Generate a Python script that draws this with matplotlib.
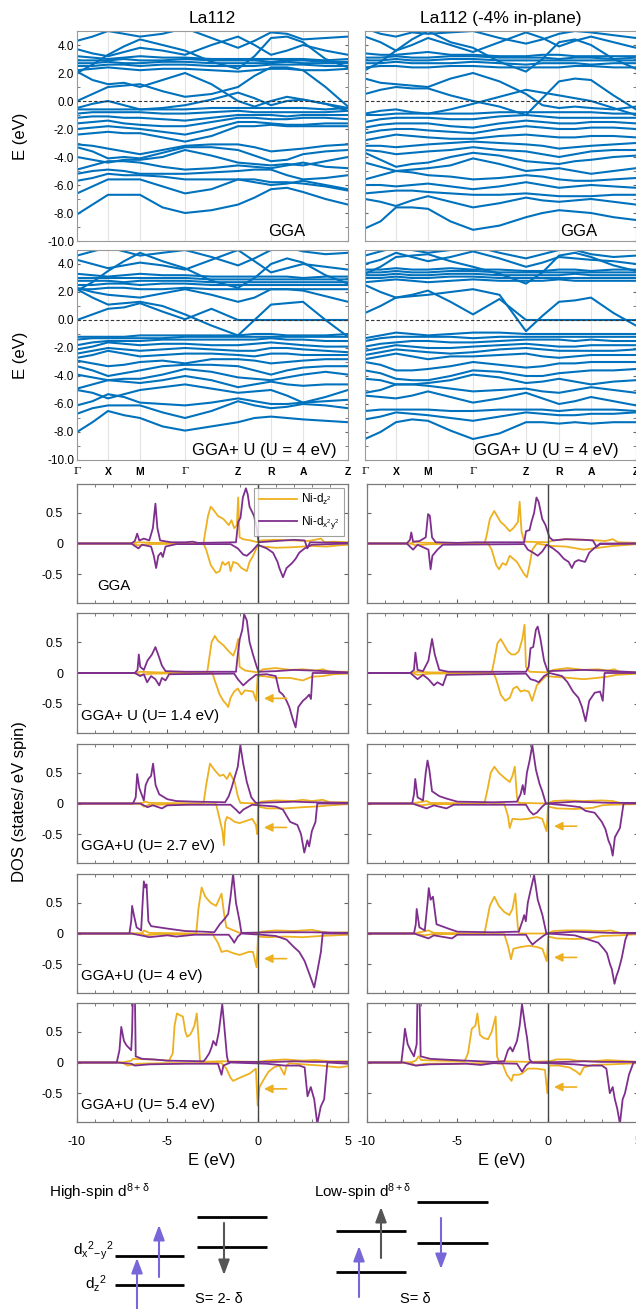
import numpy as np
import matplotlib.pyplot as plt
from matplotlib.ticker import MultipleLocator

plt.rcParams['font.family'] = ['Liberation Sans', 'DejaVu Sans']
plt.rcParams['mathtext.fontset'] = 'custom'
plt.rcParams['mathtext.rm'] = 'Liberation Sans'
plt.rcParams['mathtext.it'] = 'Liberation Sans:italic'

BLUE = '#0072BD'
ORANGE = '#EDB120'
PURPLE = '#7E2F8E'

# ---------------- band structure data ----------------
kpath = [0, 31, 63, 108, 161, 194, 226, 271]
klabels = ['Γ', 'X', 'M', 'Γ', 'Z', 'R', 'A', 'Z']

# energies (eV) at Γ, ., X, ., M, ., Γ, ., Z, ., R, ., A, ., Z
bands_gga_l = [
    [-8.1, -7.4, -6.7, -6.7, -6.7, -7.6, -8.0, -7.8, -7.4, -6.9, -6.3, -6.2, -6.5, -7.0, -7.4],
    [-6.6, -6.1, -5.6, -5.6, -5.6, -6.1, -6.6, -6.3, -5.6, -5.8, -6.0, -5.9, -5.7, -6.0, -6.3],
    [-5.7, -5.5, -5.2, -5.3, -5.3, -5.4, -5.6, -5.6, -5.6, -5.6, -5.8, -5.8, -5.9, -6.1, -6.4],
    [-5.2, -5.0, -4.9, -5.0, -5.2, -5.2, -5.2, -5.1, -5.0, -4.9, -4.9, -5.3, -5.6, -5.5, -5.3],
    [-4.9, -4.6, -4.3, -4.3, -4.4, -4.7, -4.9, -4.8, -4.6, -4.7, -4.8, -4.6, -4.4, -4.7, -4.8],
    [-4.0, -4.2, -4.4, -4.2, -4.2, -4.0, -3.5, -3.9, -4.4, -4.5, -4.6, -4.5, -4.6, -4.3, -4.0],
    [-3.3, -3.6, -4.1, -4.0, -4.1, -3.7, -3.3, -3.3, -3.5, -3.9, -4.3, -4.2, -3.8, -3.6, -3.5],
    [-3.1, -3.2, -3.4, -3.6, -3.8, -3.5, -3.2, -3.1, -3.1, -3.3, -3.6, -3.5, -3.4, -3.2, -3.1],
    [-2.4, -2.3, -2.2, -2.3, -2.3, -2.6, -2.9, -2.5, -1.8, -1.8, -1.7, -1.8, -1.8, -1.8, -1.8],
    [-2.0, -1.9, -1.8, -1.9, -2.0, -2.2, -2.4, -2.0, -1.5, -1.5, -1.6, -1.7, -1.7, -1.6, -1.6],
    [-1.6, -1.5, -1.4, -1.6, -1.7, -1.8, -1.8, -1.5, -1.2, -1.2, -1.3, -1.3, -1.2, -1.2, -1.3],
    [-1.2, -1.1, -1.1, -1.2, -1.2, -1.3, -1.4, -1.2, -1.0, -1.0, -1.0, -1.1, -1.0, -1.0, -1.0],
    [-0.9, -0.8, -0.8, -0.8, -0.8, -0.9, -0.9, -0.8, -0.7, -0.8, -0.8, -0.8, -0.8, -0.8, -0.7],
    [-0.6, -0.6, -0.6, -0.6, -0.6, -0.6, -0.6, -0.5, -0.5, -0.5, -0.5, -0.5, -0.5, -0.6, -0.5],
    [-0.5, -0.2, 0.0, -0.3, -0.6, -0.5, -0.3, 0.1, 0.6, 0.2, -0.3, 0.0, 0.1, -0.2, -0.5],
    [0.0, 0.5, 1.0, 1.1, 1.2, 0.7, 0.3, 0.5, 1.0, 1.8, 2.4, 2.4, 2.2, 1.0, -0.4],
    [2.1, 1.5, 1.2, 1.3, 1.0, 1.5, 2.0, 1.2, 0.0, -0.4, 0.0, 0.3, 0.1, -0.2, -0.7],
    [2.2, 2.3, 2.4, 2.3, 2.2, 2.3, 2.3, 2.2, 2.1, 2.2, 2.3, 2.3, 2.2, 2.2, 2.3],
    [2.5, 2.5, 2.6, 2.6, 2.5, 2.6, 2.6, 2.5, 2.5, 2.5, 2.6, 2.6, 2.6, 2.5, 2.5],
    [2.7, 2.7, 2.8, 2.7, 2.7, 2.8, 2.8, 2.7, 2.7, 2.7, 2.7, 2.8, 2.7, 2.7, 2.7],
    [2.9, 2.9, 2.9, 3.0, 2.9, 2.9, 3.0, 2.9, 2.9, 2.9, 2.8, 2.9, 2.9, 2.8, 2.8],
    [3.2, 3.1, 3.0, 3.1, 3.2, 3.1, 3.1, 3.0, 3.0, 3.0, 3.0, 3.0, 3.0, 2.9, 3.0],
    [3.7, 3.4, 3.2, 3.5, 3.8, 3.6, 3.3, 4.0, 4.6, 4.0, 3.3, 3.6, 4.0, 3.6, 3.3],
    [4.3, 4.6, 5.0, 4.8, 4.6, 4.8, 5.2, 4.5, 3.8, 4.3, 4.9, 4.8, 4.4, 4.5, 4.6],
    [2.0, 2.6, 3.3, 3.9, 4.4, 4.0, 3.6, 2.8, 2.3, 3.2, 4.5, 4.6, 4.2, 3.0, 2.4],
]

bands_ggau_l = [
    [-8.0, -7.3, -6.5, -6.8, -7.0, -7.6, -7.9, -7.6, -7.3, -7.0, -6.9, -7.0, -7.1, -7.2, -7.3],
    [-6.7, -6.3, -6.1, -6.1, -6.1, -6.6, -7.0, -6.5, -5.8, -6.1, -6.3, -6.2, -6.0, -6.1, -6.3],
    [-6.1, -5.8, -5.3, -5.5, -5.9, -6.0, -6.1, -5.9, -5.6, -5.8, -6.0, -6.0, -5.9, -5.8, -5.7],
    [-5.0, -5.2, -5.6, -5.3, -5.0, -4.8, -4.6, -4.9, -5.2, -5.1, -5.0, -5.4, -5.9, -5.5, -5.0],
    [-4.9, -4.6, -4.3, -4.4, -4.5, -4.3, -4.0, -4.3, -4.8, -4.6, -4.4, -4.6, -4.7, -4.6, -4.6],
    [-3.9, -4.1, -4.3, -4.2, -4.2, -3.9, -3.5, -3.7, -4.1, -4.2, -4.3, -4.1, -3.9, -3.7, -3.9],
    [-3.3, -3.6, -4.0, -3.8, -3.6, -3.3, -3.2, -3.2, -3.3, -3.6, -3.9, -3.6, -3.4, -3.3, -3.3],
    [-2.9, -3.1, -3.3, -3.2, -3.0, -2.9, -3.1, -2.8, -2.8, -2.9, -3.1, -3.0, -2.9, -2.8, -2.8],
    [-2.7, -2.5, -2.2, -2.4, -2.6, -2.5, -2.4, -2.4, -2.5, -2.6, -2.4, -2.4, -2.5, -2.5, -2.5],
    [-2.4, -2.2, -2.0, -2.1, -2.2, -2.1, -2.0, -2.1, -2.2, -2.2, -2.0, -2.0, -2.1, -2.2, -2.3],
    [-2.1, -1.9, -1.6, -1.7, -1.8, -1.7, -1.7, -1.8, -1.8, -1.7, -1.6, -1.7, -1.8, -1.9, -1.9],
    [-1.8, -1.6, -1.5, -1.5, -1.5, -1.4, -1.4, -1.4, -1.4, -1.4, -1.3, -1.4, -1.4, -1.5, -1.5],
    [-1.4, -1.3, -1.3, -1.3, -1.3, -1.3, -1.2, -1.2, -1.2, -1.2, -1.2, -1.2, -1.2, -1.2, -1.2],
    [-1.2, -1.2, -1.2, -1.2, -1.1, -1.1, -1.1, -1.1, -1.1, -1.0, -1.0, -1.1, -1.1, -1.1, -1.0],
    [0.0, 0.4, 0.8, 0.9, 1.2, 0.6, 0.05, 0.8, 0.0, 0.0, 0.0, 0.0, 0.0, 0.0, 0.0],
    [2.2, 1.6, 1.1, 1.2, 1.3, 1.0, 0.4, -0.4, -1.1, 0.0, 1.1, 1.2, 1.3, 0.0, -1.2],
    [2.2, 2.2, 2.3, 2.3, 2.2, 2.2, 2.3, 2.2, 2.2, 2.2, 2.2, 2.2, 2.2, 2.2, 2.2],
    [2.5, 2.5, 2.6, 2.6, 2.5, 2.6, 2.6, 2.5, 2.5, 2.5, 2.5, 2.5, 2.5, 2.5, 2.5],
    [2.8, 2.8, 2.8, 2.7, 2.8, 2.8, 2.8, 2.7, 2.7, 2.7, 2.7, 2.7, 2.7, 2.7, 2.7],
    [3.0, 3.0, 3.0, 3.0, 3.0, 3.0, 3.0, 2.9, 2.9, 2.9, 2.9, 2.9, 2.9, 2.9, 2.9],
    [3.3, 3.2, 3.1, 3.2, 3.3, 3.2, 3.2, 3.1, 3.1, 3.1, 3.1, 3.1, 3.0, 3.1, 3.1],
    [4.3, 4.0, 3.7, 3.9, 4.1, 3.9, 3.6, 4.3, 5.0, 4.2, 3.4, 3.7, 4.0, 3.8, 3.6],
    [4.6, 4.9, 5.2, 4.9, 4.6, 4.8, 5.0, 4.5, 3.9, 4.4, 5.0, 5.2, 4.9, 4.7, 4.8],
    [2.1, 2.7, 3.5, 4.2, 4.8, 4.2, 3.7, 2.8, 2.3, 3.0, 4.0, 4.4, 4.1, 3.2, 2.6],
    [2.3, 2.0, 1.8, 1.7, 1.6, 1.9, 2.2, 1.8, 1.3, 1.6, 2.2, 2.2, 2.1, 1.7, 1.3],
]

bands_gga_r = [
    [-9.1, -8.6, -7.6, -7.6, -7.7, -8.6, -9.2, -8.9, -8.3, -8.0, -7.8, -7.9, -8.0, -8.3, -8.5],
    [-7.0, -7.2, -7.5, -7.1, -6.8, -7.2, -7.6, -7.3, -6.9, -7.1, -7.2, -7.1, -7.0, -7.2, -7.4],
    [-6.6, -6.5, -6.4, -6.4, -6.5, -6.6, -6.7, -6.7, -6.6, -6.7, -6.8, -6.8, -6.8, -6.7, -6.7],
    [-6.0, -6.0, -6.1, -6.0, -5.9, -6.1, -6.3, -6.1, -5.8, -6.0, -6.2, -6.1, -6.0, -6.1, -6.2],
    [-5.6, -5.3, -5.0, -5.1, -5.3, -5.4, -5.6, -5.5, -5.3, -5.4, -5.6, -5.7, -5.7, -5.6, -5.5],
    [-4.4, -4.7, -5.0, -4.9, -4.8, -4.6, -4.1, -4.5, -5.0, -4.9, -4.8, -5.0, -5.2, -5.0, -4.8],
    [-3.7, -4.2, -4.7, -4.5, -4.4, -4.0, -3.7, -3.9, -4.3, -4.4, -4.5, -4.3, -4.2, -4.0, -3.9],
    [-3.5, -3.6, -3.8, -3.7, -3.6, -3.5, -3.3, -3.5, -3.6, -3.8, -4.0, -3.8, -3.6, -3.5, -3.5],
    [-3.2, -3.2, -3.3, -3.2, -3.1, -3.0, -2.9, -3.0, -3.1, -3.2, -3.4, -3.3, -3.2, -3.1, -3.0],
    [-2.8, -2.6, -2.4, -2.5, -2.6, -2.7, -2.7, -2.5, -2.4, -2.5, -2.6, -2.6, -2.5, -2.5, -2.6],
    [-2.3, -2.1, -2.0, -2.0, -2.1, -2.2, -2.3, -2.0, -1.8, -1.9, -2.0, -2.0, -1.9, -1.9, -2.0],
    [-1.9, -1.7, -1.6, -1.6, -1.6, -1.8, -1.9, -1.6, -1.4, -1.5, -1.6, -1.6, -1.5, -1.5, -1.6],
    [-1.5, -1.3, -1.2, -1.2, -1.2, -1.3, -1.3, -1.1, -1.0, -1.1, -1.2, -1.2, -1.2, -1.2, -1.2],
    [-1.0, -1.0, -0.9, -0.9, -0.9, -0.9, -0.9, -0.8, -0.8, -0.8, -0.8, -0.8, -0.8, -0.9, -0.9],
    [-0.9, -0.7, -0.6, -0.8, -0.9, -0.6, -0.2, 0.3, 0.8, 0.6, 0.4, 0.2, 0.0, -0.5, -1.0],
    [0.5, 0.8, 1.0, 0.9, 0.9, 0.4, 0.0, -0.4, -1.0, 0.2, 1.4, 1.6, 1.5, 0.4, -0.6],
    [1.6, 1.3, 1.2, 1.1, 1.0, 1.6, 2.0, 1.4, 0.5, -0.3, -0.5, -0.4, -0.5, -0.6, -0.4],
    [2.4, 2.5, 2.5, 2.4, 2.4, 2.5, 2.5, 2.4, 2.4, 2.4, 2.4, 2.5, 2.5, 2.4, 2.4],
    [2.7, 2.7, 2.8, 2.7, 2.7, 2.7, 2.8, 2.7, 2.6, 2.7, 2.7, 2.7, 2.6, 2.7, 2.7],
    [2.9, 2.9, 3.0, 2.9, 2.9, 3.0, 3.0, 2.9, 2.9, 2.9, 2.9, 2.9, 2.9, 2.9, 2.9],
    [3.1, 3.1, 3.2, 3.1, 3.1, 3.2, 3.2, 3.1, 3.1, 3.1, 3.0, 3.1, 3.1, 3.0, 3.1],
    [3.4, 3.3, 3.3, 3.4, 3.5, 3.3, 3.3, 3.2, 3.2, 3.3, 3.3, 3.2, 3.2, 3.2, 3.2],
    [4.6, 4.2, 3.6, 4.0, 4.5, 4.0, 3.5, 4.2, 4.9, 4.5, 3.9, 4.3, 4.6, 4.2, 3.8],
    [5.2, 4.8, 4.6, 4.9, 4.8, 4.9, 5.0, 4.5, 4.1, 4.4, 4.8, 5.0, 4.9, 4.7, 4.5],
    [2.2, 2.8, 3.6, 4.4, 5.0, 4.2, 3.8, 2.8, 2.1, 3.0, 4.2, 4.4, 4.0, 3.0, 2.3],
]

bands_ggau_r = [
    [-8.5, -8.0, -7.3, -7.1, -7.2, -7.9, -8.5, -8.1, -7.3, -7.3, -7.4, -7.3, -7.4, -7.3, -7.3],
    [-7.1, -6.9, -6.6, -6.7, -6.8, -7.0, -7.2, -6.9, -6.6, -6.7, -6.8, -6.8, -6.7, -6.7, -6.6],
    [-6.5, -6.4, -6.4, -6.4, -6.4, -6.5, -6.5, -6.4, -6.4, -6.4, -6.5, -6.4, -6.4, -6.4, -6.5],
    [-5.4, -5.5, -5.6, -5.4, -5.1, -5.5, -5.9, -5.6, -5.2, -5.6, -6.0, -5.8, -5.5, -5.8, -6.1],
    [-5.2, -5.0, -4.6, -4.6, -4.7, -4.9, -5.1, -5.0, -4.9, -5.1, -5.2, -5.0, -4.8, -5.0, -5.2],
    [-4.2, -4.3, -4.6, -4.6, -4.5, -4.3, -3.9, -4.1, -4.5, -4.4, -4.2, -4.4, -4.6, -4.4, -4.3],
    [-3.6, -3.8, -4.2, -4.3, -4.3, -4.0, -3.6, -3.7, -4.0, -4.0, -3.8, -3.7, -3.6, -3.6, -3.5],
    [-3.0, -3.2, -3.6, -3.6, -3.5, -3.3, -3.0, -3.2, -3.4, -3.3, -3.1, -3.1, -3.0, -3.0, -3.0],
    [-2.8, -2.6, -2.4, -2.6, -2.8, -2.6, -2.6, -2.5, -2.4, -2.6, -2.7, -2.6, -2.5, -2.5, -2.5],
    [-2.5, -2.3, -2.1, -2.2, -2.3, -2.4, -2.3, -2.1, -2.0, -2.1, -2.2, -2.2, -2.2, -2.2, -2.1],
    [-2.2, -2.0, -1.8, -1.9, -2.0, -2.0, -1.9, -1.8, -1.7, -1.8, -1.9, -1.9, -1.8, -1.8, -1.8],
    [-1.9, -1.7, -1.6, -1.5, -1.5, -1.6, -1.6, -1.5, -1.4, -1.4, -1.4, -1.5, -1.4, -1.5, -1.5],
    [-1.5, -1.3, -1.2, -1.2, -1.2, -1.2, -1.3, -1.2, -1.2, -1.2, -1.2, -1.2, -1.2, -1.2, -1.2],
    [-1.3, -1.1, -0.9, -1.0, -1.1, -1.0, -0.9, -0.9, -1.0, -1.0, -1.0, -1.0, -1.0, -1.0, -1.0],
    [0.5, 1.0, 1.6, 1.8, 2.1, 1.3, 0.4, 1.5, 0.0, 0.0, 0.0, 0.0, 0.0, 0.0, 0.0],
    [2.5, 2.0, 1.6, 1.7, 1.8, 2.0, 2.2, 1.8, -0.8, 0.3, 1.3, 1.4, 1.6, 0.5, -0.4],
    [2.7, 2.8, 2.9, 2.8, 2.7, 2.8, 2.9, 2.8, 2.8, 2.8, 2.9, 2.8, 2.8, 2.8, 2.8],
    [3.0, 3.0, 3.1, 3.0, 3.0, 3.1, 3.1, 3.0, 3.0, 3.0, 3.0, 3.0, 3.0, 3.0, 3.0],
    [3.2, 3.2, 3.3, 3.2, 3.2, 3.3, 3.3, 3.2, 3.2, 3.2, 3.2, 3.3, 3.2, 3.2, 3.2],
    [3.4, 3.4, 3.5, 3.4, 3.4, 3.5, 3.5, 3.4, 3.4, 3.4, 3.4, 3.4, 3.4, 3.4, 3.4],
    [3.6, 3.6, 3.7, 3.6, 3.6, 3.7, 3.6, 3.6, 3.5, 3.5, 3.6, 3.6, 3.5, 3.6, 3.6],
    [4.0, 4.3, 4.8, 4.5, 4.2, 4.5, 4.9, 4.4, 3.8, 4.1, 4.5, 4.4, 4.3, 4.2, 4.0],
    [4.6, 4.9, 5.2, 5.0, 4.8, 5.0, 5.3, 4.8, 4.4, 4.7, 5.0, 5.0, 4.7, 4.5, 4.6],
    [3.3, 3.8, 4.5, 4.6, 4.7, 4.2, 3.8, 3.3, 2.6, 3.4, 4.6, 4.8, 4.5, 3.9, 3.5],
]

# ---------------- DOS data: (E, states/eV spin) ----------------
gga_l_z2_up = [(-10,0),(-7,0),(-6.6,0.02),(-5.6,0.01),(-3.0,0.0),(-2.92,0.15),(-2.75,0.45),(-2.6,0.6),(-2.45,0.55),(-2.2,0.45),(-1.9,0.4),(-1.6,0.3),(-1.45,0.38),(-1.3,0.25),(-1.15,0.3),(-1.08,0.75),(-1.0,0.1),(-0.8,0.07),(-0.4,0.05),(0,0.02),(0.2,0.05),(1.0,0.06),(2.0,0.05),(2.8,0.04),(3.5,0.08),(3.7,0.02),(4.2,0.03),(5,0.02)]
gga_l_z2_dn = [(-10,0),(-7,0),(-6.6,-0.03),(-6.0,-0.01),(-3.0,0.0),(-2.85,-0.1),(-2.6,-0.35),(-2.3,-0.48),(-2.1,-0.45),(-1.95,-0.3),(-1.8,-0.35),(-1.6,-0.3),(-1.5,-0.45),(-1.35,-0.3),(-1.1,-0.33),(-0.9,-0.4),(-0.6,-0.45),(-0.45,-0.3),(-0.25,-0.2),(0,-0.03),(0.3,-0.05),(1.0,-0.07),(2.0,-0.06),(3.0,-0.04),(3.8,-0.05),(4.5,-0.03),(5,-0.02)]
gga_l_x2_up = [(-10,0),(-7.0,0),(-6.8,0.04),(-6.67,0.16),(-6.55,0.05),(-6.3,0.08),(-6.0,0.05),(-5.8,0.25),(-5.66,0.65),(-5.55,0.25),(-5.4,0.05),(-4.8,0.02),(-4.0,0.02),(-3.6,0.03),(-3.3,0.01),(-1.2,0.02),(-1.08,0.35),(-0.95,0.42),(-0.82,0.75),(-0.65,0.9),(-0.55,0.8),(-0.45,0.6),(-0.2,0.45),(-0.05,0.25),(0.05,0.02),(1.0,0.04),(2.0,0.06),(2.6,0.05),(2.75,-0.08),(2.9,0.02),(5,0.01)]
gga_l_x2_dn = [(-10,0),(-7.0,0),(-6.6,-0.08),(-6.4,-0.02),(-5.9,-0.05),(-5.75,-0.2),(-5.62,-0.4),(-5.5,-0.2),(-5.35,-0.15),(-5.25,-0.22),(-5.1,-0.05),(-4.5,-0.01),(-1.5,-0.01),(-1.1,-0.08),(-0.8,-0.18),(-0.6,-0.2),(-0.3,-0.12),(0,-0.02),(0.5,-0.08),(0.85,-0.15),(1.1,-0.3),(1.2,-0.4),(1.4,-0.55),(1.6,-0.4),(1.9,-0.32),(2.1,-0.25),(2.3,-0.15),(2.6,-0.08),(3.0,-0.02),(5,0)]

gga_r_z2_up = [(-10,0),(-7.6,0),(-7.4,0.02),(-6.6,0.01),(-3.5,0.0),(-3.4,0.1),(-3.2,0.4),(-2.96,0.53),(-2.8,0.45),(-2.6,0.35),(-2.4,0.3),(-2.1,0.2),(-1.9,0.25),(-1.65,0.35),(-1.55,0.68),(-1.45,0.2),(-1.3,0.03),(0,0.02),(0.3,0.05),(1.0,0.07),(2.0,0.06),(2.8,0.05),(3.2,0.04),(3.6,0.07),(3.9,0.02),(5,0.01)]
gga_r_z2_dn = [(-10,0),(-7.6,0),(-7.3,-0.03),(-6.5,-0.01),(-3.3,0.0),(-3.1,-0.1),(-2.85,-0.35),(-2.69,-0.42),(-2.5,-0.32),(-2.3,-0.35),(-2.1,-0.2),(-1.9,-0.25),(-1.7,-0.3),(-1.5,-0.4),(-1.3,-0.5),(-1.15,-0.55),(-1.0,-0.35),(-0.85,-0.1),(-0.6,0.0),(0.2,-0.04),(1.0,-0.05),(2.0,-0.1),(2.8,-0.07),(3.6,-0.04),(5,-0.01)]
gga_r_x2_up = [(-10,0),(-7.8,0),(-7.62,0.06),(-7.55,0.18),(-7.45,0.03),(-7.1,0.04),(-6.75,0.1),(-6.62,0.48),(-6.52,0.45),(-6.4,0.1),(-6.2,0.02),(-5.0,0.01),(-4.0,0.02),(-1.3,0.02),(-1.2,0.2),(-1.0,0.22),(-0.9,0.35),(-0.75,0.5),(-0.62,0.75),(-0.5,0.68),(-0.3,0.4),(-0.12,0.3),(0.1,0.1),(0.3,0.05),(1.0,0.07),(2.0,0.06),(2.5,0.05),(2.7,-0.05),(2.9,0.0),(5,0.0)]
gga_r_x2_dn = [(-10,0),(-7.8,0),(-7.45,-0.1),(-7.2,-0.02),(-6.6,-0.1),(-6.48,-0.42),(-6.38,-0.2),(-6.1,-0.1),(-5.8,-0.02),(-1.3,-0.01),(-1.1,-0.1),(-0.8,-0.15),(-0.55,-0.2),(-0.3,-0.13),(-0.05,-0.02),(0.3,-0.08),(0.6,-0.15),(0.9,-0.25),(1.16,-0.3),(1.34,-0.4),(1.5,-0.3),(1.7,-0.27),(2.07,-0.3),(2.3,-0.15),(2.6,-0.07),(2.9,-0.01),(5,0)]

u14_l_z2_up = [(-10,0),(-6.8,0),(-6.5,0.02),(-5.5,0.01),(-2.8,0.0),(-2.7,0.2),(-2.55,0.5),(-2.37,0.6),(-2.2,0.52),(-1.9,0.45),(-1.6,0.35),(-1.35,0.28),(-1.2,0.4),(-1.08,0.55),(-1.0,0.1),(-0.7,0.04),(0,0.01),(0.3,0.06),(1.0,0.08),(1.8,0.05),(2.5,0.06),(3.2,0.04),(3.6,0.06),(4.0,0.02),(5,0.02)]
u14_l_z2_dn = [(-10,0),(-6.8,0),(-6.5,-0.03),(-5.8,-0.01),(-2.5,0.0),(-2.4,-0.1),(-2.1,-0.35),(-1.9,-0.45),(-1.75,-0.5),(-1.63,-0.55),(-1.5,-0.4),(-1.3,-0.3),(-1.1,-0.25),(-0.9,-0.35),(-0.7,-0.28),(-0.26,-0.3),(-0.08,-0.45),(0.0,-0.05),(0.3,-0.05),(1.0,-0.08),(1.8,-0.08),(2.5,-0.12),(3.0,-0.06),(3.6,-0.05),(4.2,-0.02),(5,-0.01)]
u14_l_x2_up = [(-10,0),(-6.8,0),(-6.65,0.05),(-6.58,0.3),(-6.5,0.1),(-6.3,0.05),(-6.1,0.2),(-5.85,0.3),(-5.66,0.42),(-5.45,0.25),(-5.3,0.12),(-5.1,0.03),(-4.0,0.02),(-3.5,0.02),(-1.2,0.02),(-1.1,0.3),(-0.99,0.55),(-0.85,0.7),(-0.75,0.95),(-0.6,0.85),(-0.45,0.5),(-0.26,0.3),(-0.05,0.1),(0.05,0.02),(1.0,0.03),(2.0,0.05),(3.0,0.04),(5,0.01)]
u14_l_x2_dn = [(-10,0),(-6.8,0),(-6.5,-0.05),(-6.3,-0.02),(-6.12,-0.15),(-5.9,-0.05),(-5.66,-0.1),(-5.45,-0.2),(-5.3,-0.08),(-5.1,-0.12),(-4.9,-0.02),(-1.3,-0.01),(-1.1,-0.1),(-0.8,-0.2),(-0.5,-0.12),(-0.1,-0.03),(0.5,-0.02),(1.0,-0.05),(1.2,-0.3),(1.4,-0.35),(1.6,-0.45),(1.75,-0.55),(1.95,-0.75),(2.1,-0.88),(2.25,-0.55),(2.5,-0.45),(2.7,-0.4),(2.85,-0.35),(2.95,-0.42),(3.04,0.0),(5,0)]

u14_r_z2_up = [(-10,0),(-7.5,0),(-7.3,0.02),(-6.5,0.01),(-3.1,0.0),(-2.96,0.2),(-2.78,0.48),(-2.6,0.55),(-2.4,0.45),(-2.2,0.35),(-2.0,0.3),(-1.8,0.3),(-1.6,0.35),(-1.4,0.55),(-1.28,0.78),(-1.2,0.1),(-1.0,0.02),(0,0.01),(0.3,0.05),(1.1,0.08),(2.0,0.05),(2.8,0.06),(3.3,0.04),(3.7,0.06),(4.0,0.01),(5,0.01)]
u14_r_z2_dn = [(-10,0),(-7.5,0),(-7.2,-0.03),(-6.5,-0.01),(-3.0,0.0),(-2.85,-0.1),(-2.6,-0.35),(-2.35,-0.45),(-2.1,-0.4),(-1.9,-0.25),(-1.7,-0.22),(-1.5,-0.3),(-1.3,-0.28),(-1.05,-0.3),(-0.86,-0.45),(-0.6,-0.2),(-0.1,-0.05),(0.3,-0.06),(1.2,-0.08),(2.0,-0.1),(2.7,-0.08),(3.3,-0.06),(3.8,-0.03),(5,-0.01)]
u14_r_x2_up = [(-10,0),(-7.6,0),(-7.4,0.05),(-7.32,0.33),(-7.2,0.05),(-6.9,0.03),(-6.6,0.2),(-6.4,0.55),(-6.25,0.3),(-6.0,0.05),(-5.5,0.02),(-3.5,0.02),(-1.2,0.02),(-1.05,0.1),(-0.95,0.4),(-0.8,0.42),(-0.65,0.7),(-0.55,0.75),(-0.4,0.55),(-0.2,0.2),(0.0,0.03),(1.0,0.04),(2.0,0.05),(3.0,0.04),(5,0.01)]
u14_r_x2_dn = [(-10,0),(-7.6,0),(-7.2,-0.1),(-6.9,-0.03),(-6.6,-0.1),(-6.3,-0.2),(-6.1,-0.15),(-5.8,-0.2),(-5.6,-0.03),(-1.2,-0.01),(-0.95,-0.1),(-0.7,-0.12),(-0.5,-0.15),(-0.2,-0.05),(0.1,0.0),(0.8,-0.05),(1.1,-0.15),(1.4,-0.3),(1.7,-0.4),(1.9,-0.55),(2.1,-0.78),(2.3,-0.45),(2.6,-0.32),(2.9,-0.3),(3.05,-0.45),(3.15,0.0),(5,0)]

u27_l_z2_up = [(-10,0),(-6.5,0),(-6.2,0.03),(-6.0,0.01),(-3.0,0.0),(-2.85,0.3),(-2.64,0.65),(-2.4,0.55),(-2.1,0.45),(-1.9,0.47),(-1.7,0.4),(-1.54,0.5),(-1.4,0.42),(-1.27,0.35),(-1.1,0.12),(-0.96,0.01),(0,0.0),(0.2,0.03),(1.0,0.05),(2.0,0.04),(2.5,0.06),(3.0,0.04),(3.6,0.06),(4.0,0.02),(5,0.02)]
u27_l_z2_dn = [(-10,0),(-6.5,0),(-6.3,-0.05),(-6.0,-0.02),(-2.3,-0.01),(-2.15,-0.2),(-1.95,-0.45),(-1.87,-0.68),(-1.8,-0.3),(-1.7,-0.22),(-1.5,-0.25),(-1.27,-0.3),(-1.0,-0.32),(-0.6,-0.28),(-0.3,-0.25),(-0.1,-0.35),(-0.02,-0.5),(0.02,-0.05),(0.5,-0.08),(1.5,-0.08),(2.5,-0.06),(3.2,-0.05),(4.0,-0.03),(5,-0.01)]
u27_l_x2_up = [(-10,0),(-6.9,0),(-6.75,0.1),(-6.67,0.48),(-6.55,0.25),(-6.3,0.05),(-6.2,0.3),(-6.05,0.4),(-5.9,0.45),(-5.79,0.65),(-5.65,0.3),(-5.45,0.15),(-5.0,0.07),(-4.5,0.04),(-3.5,0.03),(-1.8,0.02),(-1.6,0.12),(-1.45,0.25),(-1.3,0.4),(-1.1,0.6),(-0.96,0.95),(-0.8,0.65),(-0.6,0.35),(-0.35,0.1),(-0.1,0.01),(1.0,0.02),(2.0,0.03),(3.0,0.02),(5,0.01)]
u27_l_x2_dn = [(-10,0),(-6.5,0),(-6.1,-0.06),(-5.8,-0.03),(-5.3,-0.08),(-5.0,-0.03),(-3.8,-0.02),(-1.5,-0.02),(-1.2,-0.1),(-1.0,-0.16),(-0.8,-0.1),(-0.3,-0.02),(1.0,-0.05),(1.4,-0.1),(1.6,-0.2),(1.8,-0.3),(2.2,-0.35),(2.4,-0.5),(2.58,-0.8),(2.75,-0.6),(2.85,-0.7),(3.0,-0.45),(3.2,-0.3),(3.3,0.0),(5,0)]

u27_r_z2_up = [(-10,0),(-7.5,0),(-6.7,0.04),(-6.5,0.01),(-3.5,0.0),(-3.35,0.2),(-3.15,0.5),(-2.95,0.6),(-2.7,0.5),(-2.4,0.42),(-2.1,0.35),(-1.95,0.45),(-1.82,0.6),(-1.7,0.1),(-1.6,0.01),(0,0.0),(0.3,0.04),(1.0,0.05),(2.0,0.04),(3.0,0.05),(3.6,0.04),(4.0,0.01),(5,0.01)]
u27_r_z2_dn = [(-10,0),(-7.5,0),(-7.0,-0.03),(-6.5,-0.01),(-2.4,-0.01),(-2.2,-0.2),(-2.1,-0.4),(-1.95,-0.25),(-1.5,-0.26),(-1.1,-0.25),(-0.6,-0.22),(-0.3,-0.25),(-0.06,-0.45),(0.02,-0.05),(0.5,-0.08),(1.5,-0.09),(2.5,-0.07),(3.0,-0.03),(3.5,-0.02),(5,-0.01)]
u27_r_x2_up = [(-10,0),(-7.5,0),(-7.4,0.15),(-7.33,0.4),(-7.2,0.1),(-6.9,0.05),(-6.75,0.5),(-6.65,0.7),(-6.55,0.55),(-6.4,0.2),(-6.0,0.12),(-5.6,0.08),(-5.0,0.03),(-3.0,0.02),(-1.7,0.03),(-1.5,0.15),(-1.38,0.3),(-1.28,0.15),(-1.15,0.5),(-1.0,0.7),(-0.85,0.95),(-0.65,0.55),(-0.45,0.32),(-0.3,0.2),(-0.1,0.0),(1.5,0.03),(2.5,0.02),(3.5,0.01),(5,0.01)]
u27_r_x2_dn = [(-10,0),(-7.5,0),(-6.7,-0.08),(-6.3,-0.03),(-5.6,-0.08),(-5.2,-0.02),(-1.2,-0.02),(-1.0,-0.12),(-0.8,-0.18),(-0.6,-0.15),(-0.3,-0.05),(-0.1,0.0),(1.0,-0.03),(1.8,-0.06),(2.1,-0.12),(2.6,-0.15),(3.0,-0.3),(3.2,-0.42),(3.36,-0.6),(3.5,-0.7),(3.6,-0.85),(3.72,-0.55),(4.0,-0.4),(4.2,0.0),(5,0)]

u4_l_z2_up = [(-10,0),(-6.4,0),(-6.3,0.05),(-6.0,0.01),(-3.4,0.0),(-3.28,0.4),(-3.1,0.75),(-2.9,0.6),(-2.6,0.5),(-2.3,0.45),(-2.15,0.55),(-2.0,0.65),(-1.85,0.3),(-1.73,0.1),(-1.0,0.01),(0,0.0),(0.2,0.03),(1.0,0.05),(2.0,0.04),(3.0,0.06),(3.5,0.03),(4.0,0.01),(5,0.02)]
u4_l_z2_dn = [(-10,0),(-6.4,0),(-6.2,-0.03),(-5.5,-0.01),(-2.5,-0.01),(-2.2,-0.15),(-2.0,-0.3),(-1.7,-0.28),(-1.36,-0.32),(-1.0,-0.35),(-0.5,-0.3),(-0.26,-0.3),(-0.06,-0.55),(0.02,-0.05),(0.5,-0.06),(1.5,-0.05),(2.5,-0.06),(3.5,-0.04),(5,-0.02)]
u4_l_x2_up = [(-10,0),(-7.1,0),(-7.0,0.2),(-6.95,0.45),(-6.85,0.3),(-6.7,0.1),(-6.45,0.05),(-6.35,0.6),(-6.3,0.85),(-6.22,0.75),(-6.15,0.8),(-6.05,0.2),(-5.9,0.12),(-5.0,0.08),(-4.0,0.04),(-3.0,0.03),(-2.4,0.02),(-2.1,0.15),(-1.8,0.25),(-1.63,0.32),(-1.5,0.6),(-1.36,0.97),(-1.2,0.5),(-1.0,0.2),(-0.9,0.01),(1.0,0.02),(2.0,0.02),(3.0,0.02),(5,0.01)]
u4_l_x2_dn = [(-10,0),(-7.0,0),(-6.3,-0.04),(-6.0,-0.06),(-5.0,-0.03),(-4.5,-0.05),(-3.5,-0.02),(-1.6,-0.02),(-1.4,-0.1),(-1.3,-0.15),(-1.1,-0.05),(-0.9,0.0),(0.2,-0.02),(1.0,-0.04),(1.6,-0.1),(2.0,-0.22),(2.3,-0.3),(2.6,-0.45),(2.85,-0.65),(3.13,-0.88),(3.3,-0.62),(3.5,-0.3),(3.6,0.0),(5,0)]

u4_r_z2_up = [(-10,0),(-7.4,0),(-6.6,0.05),(-6.3,0.01),(-3.5,0.0),(-3.4,0.15),(-3.2,0.45),(-2.95,0.6),(-2.7,0.45),(-2.4,0.35),(-2.12,0.3),(-1.95,0.4),(-1.79,0.65),(-1.65,0.1),(-1.58,0.0),(0,0.0),(0.3,0.04),(1.0,0.05),(2.0,0.05),(3.0,0.04),(3.5,0.05),(4.0,0.01),(5,0.01)]
u4_r_z2_dn = [(-10,0),(-7.4,0),(-6.8,-0.03),(-6.4,-0.01),(-2.4,-0.01),(-2.2,-0.2),(-2.03,-0.42),(-1.9,-0.25),(-1.5,-0.22),(-1.0,-0.2),(-0.6,-0.22),(-0.29,-0.25),(-0.05,-0.45),(0.03,-0.05),(0.5,-0.08),(1.5,-0.09),(2.3,-0.08),(3.0,-0.04),(4.0,-0.03),(5,-0.01)]
u4_r_x2_up = [(-10,0),(-7.4,0),(-7.3,0.15),(-7.25,0.4),(-7.1,0.1),(-6.8,0.05),(-6.65,0.5),(-6.58,0.74),(-6.48,0.55),(-6.35,0.6),(-6.15,0.15),(-5.5,0.08),(-5.0,0.03),(-3.0,0.02),(-1.6,0.03),(-1.4,0.2),(-1.3,0.3),(-1.21,0.2),(-1.1,0.5),(-0.95,0.7),(-0.75,0.95),(-0.55,0.55),(-0.29,0.3),(-0.07,0.0),(1.5,0.03),(2.5,0.02),(3.5,0.01),(5,0.01)]
u4_r_x2_dn = [(-10,0),(-7.4,0),(-6.6,-0.08),(-6.3,-0.03),(-5.3,-0.08),(-5.0,-0.02),(-1.2,-0.02),(-1.0,-0.12),(-0.84,-0.18),(-0.6,-0.12),(-0.2,-0.03),(0.0,0.0),(1.5,-0.03),(2.27,-0.1),(2.8,-0.15),(3.1,-0.25),(3.28,-0.32),(3.45,-0.5),(3.55,-0.58),(3.7,-0.82),(3.8,-0.7),(3.92,-0.6),(4.1,-0.4),(4.3,-0.1),(4.43,0.0),(5,0)]

u54_l_z2_up = [(-10,0),(-7.5,0),(-7.0,0.03),(-6.9,0.06),(-6.0,0.05),(-5.3,0.04),(-4.9,0.03),(-4.7,0.15),(-4.6,0.6),(-4.47,0.8),(-4.3,0.77),(-4.14,0.75),(-4.0,0.5),(-3.9,0.42),(-3.75,0.45),(-3.65,0.5),(-3.5,0.6),(-3.37,0.8),(-3.25,0.3),(-3.19,0.01),(-2.0,0.02),(0.0,0.01),(0.5,0.03),(1.5,0.05),(2.5,0.03),(3.2,0.04),(4.0,0.02),(5,0.02)]
u54_l_z2_dn = [(-10,0),(-7.5,0),(-7.2,-0.05),(-6.6,-0.02),(-5.0,-0.01),(-2.0,-0.01),(-1.73,-0.1),(-1.5,-0.25),(-1.36,-0.3),(-1.0,-0.25),(-0.44,-0.18),(-0.1,-0.1),(0.0,-0.7),(0.1,-0.4),(0.29,-0.3),(0.6,-0.15),(0.9,-0.08),(1.2,-0.05),(1.48,-0.2),(1.6,-0.05),(1.75,-0.01),(2.5,-0.03),(3.5,-0.05),(4.5,-0.08),(5,-0.06)]
u54_l_x2_up = [(-10,0),(-7.8,0),(-7.65,0.2),(-7.55,0.58),(-7.4,0.35),(-7.26,0.28),(-7.0,0.2),(-6.95,0.5),(-6.9,1.2),(-6.8,1.2),(-6.75,0.1),(-6.4,0.06),(-5.76,0.05),(-5.0,0.03),(-3.0,0.02),(-2.9,0.05),(-2.68,0.15),(-2.55,0.25),(-2.46,0.35),(-2.3,0.28),(-2.15,0.5),(-1.96,0.95),(-1.85,0.6),(-1.7,0.1),(-1.63,0.01),(1.0,0.01),(2.0,0.02),(3.0,0.01),(5,0.01)]
u54_l_x2_dn = [(-10,0),(-7.8,0),(-7.0,-0.02),(-6.8,-0.05),(-6.0,-0.03),(-4.0,-0.02),(-2.2,-0.02),(-2.0,-0.2),(-1.9,-0.05),(-1.5,0.0),(0.5,-0.02),(1.5,-0.05),(2.3,-0.05),(2.6,-0.08),(2.76,-0.55),(2.94,-0.4),(3.13,-0.6),(3.3,-1.0),(3.49,-0.72),(3.68,-0.6),(3.86,0.0),(5,-0.02)]

u54_r_z2_up = [(-10,0),(-7.6,0),(-7.3,0.03),(-7.15,0.1),(-7.0,0.04),(-6.0,0.03),(-4.6,0.02),(-4.41,0.15),(-4.2,0.55),(-4.0,0.6),(-3.89,0.8),(-3.75,0.45),(-3.55,0.4),(-3.3,0.38),(-3.1,0.5),(-2.88,0.75),(-2.8,0.1),(-2.7,0.02),(-1.0,0.01),(0.1,0.02),(0.5,0.05),(1.2,0.05),(1.6,0.03),(2.5,0.02),(3.3,0.04),(3.9,0.03),(5,0.01)]
u54_r_z2_dn = [(-10,0),(-7.6,0),(-7.3,-0.05),(-6.8,-0.02),(-3.0,-0.01),(-2.5,-0.02),(-2.26,-0.2),(-2.0,-0.3),(-1.9,-0.2),(-1.6,-0.2),(-1.42,-0.18),(-1.1,-0.1),(-0.6,-0.1),(-0.15,-0.12),(-0.02,-0.5),(0.1,-0.05),(0.6,-0.05),(1.2,-0.08),(1.6,-0.15),(1.79,-0.2),(2.0,-0.08),(2.5,-0.04),(3.5,-0.03),(5,-0.01)]
u54_r_x2_up = [(-10,0),(-8.1,0),(-7.98,0.3),(-7.9,0.55),(-7.75,0.3),(-7.59,0.2),(-7.4,0.1),(-7.25,0.3),(-7.2,1.2),(-7.1,1.2),(-7.03,0.1),(-6.5,0.06),(-5.9,0.05),(-4.5,0.03),(-3.0,0.01),(-2.4,0.02),(-2.2,0.2),(-2.07,0.25),(-1.94,0.18),(-1.7,0.35),(-1.55,0.6),(-1.42,0.95),(-1.25,0.6),(-1.14,0.4),(-1.0,0.05),(-0.86,0.0),(1.0,0.01),(2.0,0.02),(3.0,0.01),(5,0.01)]
u54_r_x2_dn = [(-10,0),(-8.0,0),(-7.3,-0.05),(-6.5,-0.03),(-4.5,-0.02),(-3.7,-0.04),(-3.0,-0.01),(-1.7,-0.02),(-1.42,-0.15),(-1.2,-0.05),(-1.0,0.0),(1.5,-0.03),(2.2,-0.05),(3.0,-0.05),(3.25,-0.1),(3.44,-0.5),(3.6,-0.4),(3.72,-0.6),(3.85,-0.75),(4.0,-1.0),(4.15,-0.6),(4.28,-0.5),(4.5,-0.2),(4.75,0.0),(5,0)]

dos_labels = ['GGA', 'GGA+ U (U= 1.4 eV)', 'GGA+U (U= 2.7 eV)', 'GGA+U (U= 4 eV)', 'GGA+U (U= 5.4 eV)']
arrow_y_left = [None, -0.41, -0.39, -0.41, -0.43]
arrow_y_right = [None, None, -0.37, -0.39, -0.40]

dos_left = [
    (gga_l_z2_up, gga_l_z2_dn, gga_l_x2_up, gga_l_x2_dn),
    (u14_l_z2_up, u14_l_z2_dn, u14_l_x2_up, u14_l_x2_dn),
    (u27_l_z2_up, u27_l_z2_dn, u27_l_x2_up, u27_l_x2_dn),
    (u4_l_z2_up, u4_l_z2_dn, u4_l_x2_up, u4_l_x2_dn),
    (u54_l_z2_up, u54_l_z2_dn, u54_l_x2_up, u54_l_x2_dn),
]
dos_right = [
    (gga_r_z2_up, gga_r_z2_dn, gga_r_x2_up, gga_r_x2_dn),
    (u14_r_z2_up, u14_r_z2_dn, u14_r_x2_up, u14_r_x2_dn),
    (u27_r_z2_up, u27_r_z2_dn, u27_r_x2_up, u27_r_x2_dn),
    (u4_r_z2_up, u4_r_z2_dn, u4_r_x2_up, u4_r_x2_dn),
    (u54_r_z2_up, u54_r_z2_dn, u54_r_x2_up, u54_r_x2_dn),
]

# ---------------- figure ----------------
W, H = 636, 1309
fig = plt.figure(figsize=(W / 100, H / 100), dpi=100)


def box(x0, y0, x1, y1):
    return fig.add_axes([x0 / W, 1 - y1 / H, (x1 - x0) / W, (y1 - y0) / H])


knodes = np.sort(np.concatenate([kpath, (np.array(kpath[:-1]) + np.array(kpath[1:])) / 2]))


def band_panel(ax, bands, text, text_x, show_k, show_y):
    for k in kpath[1:-1]:
        ax.axvline(k, color='#e3e3e3', lw=0.8, zorder=0)
    for b in bands:
        ax.plot(knodes, b, color=BLUE, lw=1.5, solid_joinstyle='round')
    ax.axhline(0, color='#333333', ls='--', lw=0.8, dashes=(3, 2))
    ax.set_xlim(kpath[0], kpath[-1])
    ax.set_ylim(-10, 5)
    ax.yaxis.set_major_locator(MultipleLocator(2))
    ax.yaxis.set_minor_locator(MultipleLocator(1))
    ax.tick_params(axis='y', which='both', direction='in', length=2.5, labelsize=8.5, pad=2,
                   right=True, color='#666666')
    if show_y:
        ax.set_yticklabels([f'{v:.1f}' for v in ax.get_yticks()])
    else:
        ax.set_yticklabels([])
    ax.set_xticks(kpath)
    if show_k:
        ax.set_xticklabels(klabels, fontsize=7.5, fontweight='bold')
        for t in ax.get_xticklabels():
            if t.get_text() == 'Γ':
                t.set_family('DejaVu Serif')
                t.set_fontweight('normal')
        ax.tick_params(axis='x', length=0, pad=5)
    else:
        ax.set_xticklabels([])
        ax.tick_params(axis='x', length=0)
    for s in ax.spines.values():
        s.set_color('#9a9a9a')
        s.set_linewidth(0.8)
    ax.text(text_x, 0.045, text, transform=ax.transAxes, fontsize=12, ha='center', va='center')


ax = box(77, 31, 348, 241)
band_panel(ax, bands_gga_l, 'GGA', 0.775, False, True)
ax.set_title('La112', fontsize=12.5, pad=6)
ax = box(77, 250, 348, 460)
band_panel(ax, bands_ggau_l, 'GGA+ U (U = 4 eV)', 0.69, True, True)
ax = box(365, 31, 636, 241)
band_panel(ax, bands_gga_r, 'GGA', 0.79, False, False)
ax.set_title('La112 (-4% in-plane)', fontsize=12.5, pad=6)
ax = box(365, 250, 636, 460)
band_panel(ax, bands_ggau_r, 'GGA+ U (U = 4 eV)', 0.67, True, False)

fig.text(20 / W, 1 - 136 / H, 'E (eV)', rotation=90, fontsize=12, ha='center', va='center')
fig.text(20 / W, 1 - 355 / H, 'E (eV)', rotation=90, fontsize=12, ha='center', va='center')

# ---------------- DOS panels ----------------
rows = [(484, 603), (613, 733), (744, 863), (874, 993), (1003, 1122)]


def dos_panel(ax, curves, label, label_x, arrow_y, left, bottom):
    z_up, z_dn, x_up, x_dn = [np.array(c).T for c in curves]
    ax.plot(z_up[0], z_up[1], color=ORANGE, lw=1.3, label='Ni-d$_{\\mathregular{z^2}}$')
    ax.plot(z_dn[0], z_dn[1], color=ORANGE, lw=1.3)
    ax.plot(x_up[0], x_up[1], color=PURPLE, lw=1.3, label='Ni-d$_{\\mathregular{x^2y^2}}$')
    ax.plot(x_dn[0], x_dn[1], color=PURPLE, lw=1.3)
    ax.axvline(0, color='#444444', lw=1.0)
    ax.set_xlim(-10, 5)
    ax.set_ylim(-0.97, 0.97)
    ax.set_xticks([-10, -5, 0, 5])
    ax.xaxis.set_minor_locator(MultipleLocator(1))
    ax.set_yticks([-0.5, 0, 0.5])
    ax.tick_params(which='both', direction='in', top=True, right=True, color='#666666')
    ax.tick_params(which='major', length=3)
    ax.tick_params(which='minor', length=2)
    ax.tick_params(axis='y', labelsize=9, pad=10)
    ax.tick_params(axis='x', labelsize=9, pad=10)
    if left:
        ax.set_yticklabels(['-0.5', '0', '0.5'])
    else:
        ax.set_yticklabels([])
    if not bottom:
        ax.set_xticklabels([])
    else:
        ax.set_xticklabels(['-10', '-5', '0', '5'])
    for s in ax.spines.values():
        s.set_color('#7a7a7a')
        s.set_linewidth(0.9)
    ax.text(label_x, 0.14, label, transform=ax.transAxes, fontsize=10.8, ha='left', va='center')
    if arrow_y is not None:
        ax.annotate('', xy=(0.35, arrow_y), xytext=(1.6, arrow_y),
                    arrowprops=dict(arrowstyle='-|>,head_width=0.25,head_length=0.5',
                                    color=ORANGE, lw=1.2, shrinkA=0, shrinkB=0))


for i, (y0, y1) in enumerate(rows):
    lx = 0.075 if i == 0 else 0.015
    axl = box(77, y0, 348, y1)
    dos_panel(axl, dos_left[i], dos_labels[i], lx, arrow_y_left[i], True, i == 4)
    axr = box(367, y0, 638, y1)
    dos_panel(axr, dos_right[i], '', lx, arrow_y_right[i], False, i == 4)
    if i == 0:
        leg = axl.legend(loc='upper right', fontsize=8.5, handlelength=3.2, frameon=True,
                         fancybox=False, edgecolor='#888888', borderaxespad=0.3,
                         labelspacing=0.6, handletextpad=0.4)
        leg.get_frame().set_linewidth(0.8)

fig.text(20 / W, 1 - 802 / H, 'DOS (states/ eV spin)', rotation=90, fontsize=12,
         ha='center', va='center')
fig.text(212 / W, 1 - 1160 / H, 'E (eV)', fontsize=12, ha='center', va='center')
fig.text(502 / W, 1 - 1160 / H, 'E (eV)', fontsize=12, ha='center', va='center')

# ---------------- level schematic ----------------
sk = fig.add_axes([0, 0, 1, 1])
sk.set_xlim(0, W)
sk.set_ylim(H, 0)
sk.axis('off')
sk.patch.set_alpha(0)

ARROW_BLUE = '#7767D9'
ARROW_GRAY = '#555555'

# (x0, x1, y) of each level line
levels_high = [(115, 184, 1256), (115, 184, 1285), (197, 267, 1217), (197, 267, 1247)]
levels_low = [(336, 406, 1231), (336, 406, 1272), (417, 488, 1202), (417, 488, 1243)]
# (x, y_tail, y_head, colour) of each spin arrow
spins_high = [(137, 1330, 1258, ARROW_BLUE), (159, 1277, 1225, ARROW_BLUE), (224, 1223, 1275, ARROW_GRAY)]
spins_low = [(359, 1297, 1246, ARROW_BLUE), (381, 1258, 1207, ARROW_GRAY), (441, 1218, 1269, ARROW_BLUE)]

for x0, x1, y in levels_high + levels_low:
    sk.plot([x0, x1], [y, y], color='black', lw=2, solid_capstyle='butt')
for x, yt, yh, c in spins_high + spins_low:
    sk.annotate('', xy=(x, yh), xytext=(x, yt), annotation_clip=False,
                arrowprops=dict(arrowstyle='-|>,head_width=0.28,head_length=0.75',
                                color=c, lw=1.5, shrinkA=0, shrinkB=0, mutation_scale=12))

sk.text(49, 1192, 'High-spin d$^{\\mathregular{8+δ}}$', fontsize=11, ha='left', va='center')
sk.text(314, 1192, 'Low-spin d$^{\\mathregular{8+δ}}$', fontsize=11, ha='left', va='center')
sk.text(113, 1251, 'd$_{\\mathregular{x}}$$^{\\mathregular{2}}$$_{\\mathregular{-y}}$$^{\\mathregular{2}}$',
        fontsize=11, ha='right', va='center')
sk.text(107, 1284, 'd$_{\\mathregular{z}}$$^{\\mathregular{2}}$', fontsize=11, ha='right', va='center')
sk.text(195, 1299, 'S= 2- δ', fontsize=10.5, ha='left', va='center')
sk.text(400, 1299, 'S= δ', fontsize=10.5, ha='left', va='center')

fig.savefig('out.png', dpi=100)
